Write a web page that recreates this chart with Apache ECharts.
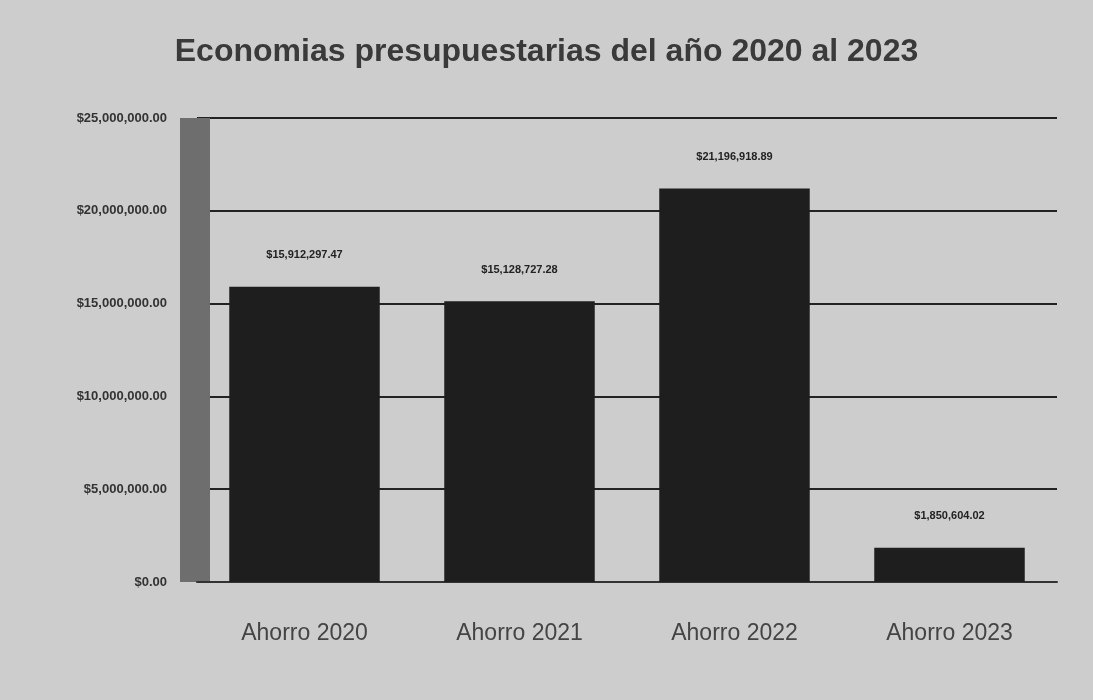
<!DOCTYPE html>
<html>
  <head>
    <meta charset="utf-8">
    <title></title>
    <style>
      html, body{ margin:0; padding:0; background:#cdcdcd; }
      #wrap{ width:1093px; height:700px; }
    </style>
    <script src="https://cdn.jsdelivr.net/npm/echarts@6/dist/echarts.min.js" charset="utf-8"></script>
  </head>
  <body>
    <div id="wrap"></div>
    <script>
      // datos
      var categorias = ['Ahorro 2020', 'Ahorro 2021', 'Ahorro 2022', 'Ahorro 2023'];
      var ahorros = [15912297.47, 15128727.28, 21196918.89, 1850604.02];
      var ticksY = [0, 5000000, 10000000, 15000000, 20000000, 25000000];

      function moneda(v){
        var partes = v.toFixed(2).split('.');
        return '$' + partes[0].replace(/\B(?=(\d{3})+(?!\d))/g, ',') + '.' + partes[1];
      }

      var chart = echarts.init(document.getElementById('wrap'));

      var option = {
        backgroundColor: '#cdcdcd',
        animation: false,
        title: {
          text: 'Economias presupuestarias del año 2020 al 2023',
          left: 'center',
          top: 31,
          textStyle: { fontFamily: 'Liberation Sans', fontSize: 32, fontWeight: 'bold', color: '#3a3a3a' }
        },
        grid: { left: 197, right: 36, top: 118, bottom: 118 },
        xAxis: {
          type: 'category',
          data: categorias,
          axisLine: { lineStyle: { color: '#333', width: 2 } },
          axisTick: { show: false },
          axisLabel: { fontFamily: 'Liberation Sans', fontSize: 23, color: '#444', margin: 40 }
        },
        yAxis: {
          type: 'value',
          min: ticksY[0],
          max: ticksY[ticksY.length - 1],
          interval: 5000000,
          axisLine: { show: false },
          axisTick: { show: false },
          splitLine: { lineStyle: { color: '#222', width: 2 } },
          axisLabel: {
            fontFamily: 'Liberation Sans', fontSize: 13, fontWeight: 'bold', color: '#333', margin: 30,
            formatter: function (v){ return moneda(v); }
          }
        },
        series: [{
          type: 'bar',
          data: ahorros,
          barWidth: '70%',
          itemStyle: { color: '#1e1e1e' },
          label: {
            show: true,
            position: 'top',
            distance: 26,
            fontFamily: 'Liberation Sans', fontSize: 11, fontWeight: 'bold', color: '#222',
            formatter: function (p){ return moneda(p.value); }
          }
        }]
      };
      chart.setOption(option);

      // franja gris a la izquierda del area de trazado
      var p0 = chart.convertToPixel({ gridIndex: 0 }, [0, ticksY[ticksY.length - 1]]);
      var p1 = chart.convertToPixel({ gridIndex: 0 }, [0, 0]);
      chart.setOption({
        graphic: [{
          type: 'rect',
          shape: { x: 180, y: p0[1], width: 30, height: p1[1] - p0[1] },
          style: { fill: '#6e6e6e' },
          z: 0
        }]
      });
    </script>
  </body>
</html>
